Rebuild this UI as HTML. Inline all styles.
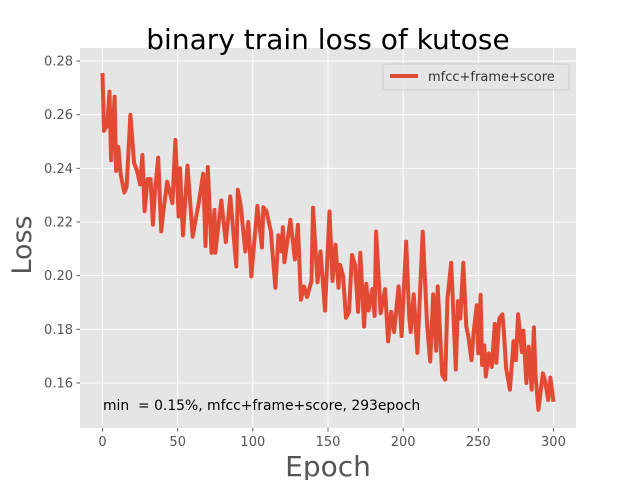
<!DOCTYPE html>
<html><head><meta charset="utf-8"><style>
body{margin:0;background:#fff;}
svg{display:block;font-family:"DejaVu Sans","Liberation Sans",sans-serif;}
</style></head><body>
<svg id="chart" width="640" height="480">
<rect x="80" y="48" width="496" height="380" fill="#E5E5E5"/>
<g id="grid"></g>
<g id="ticks"></g>
<path id="line" fill="none" stroke="#E24A33" stroke-width="4" stroke-linejoin="round"/>
<text x="328" y="49" text-anchor="middle" font-size="28" fill="#000">binary train loss of kutose</text>
<text x="328" y="476" text-anchor="middle" font-size="28" fill="#555">Epoch</text>
<text transform="translate(31,245) rotate(-90)" text-anchor="middle" font-size="27" fill="#555">Loss</text>
<text x="103" y="410" font-size="13.9" fill="#000" xml:space="preserve" style="white-space:pre">min  = 0.15%, mfcc+frame+score, 293epoch</text>
<g>
<rect x="383" y="64" width="186" height="26" rx="3" fill="#E5E5E5" stroke="#ccc" stroke-width="1" fill-opacity="0.8"/>
<line x1="390" y1="76" x2="418" y2="76" stroke="#E24A33" stroke-width="4"/>
<text x="428" y="81" font-size="13" fill="#333">mfcc+frame+score</text>
</g>
</svg>
<script>
const epochs=[0,1,3,4.6,5.7,8,9,10.5,12,14.5,16,18.5,21,23,25,26.5,28,30,32,33.5,34.8,37,39,40.5,43,46.5,48.5,50.6,51.5,53.5,56.5,60,62,64,67,68.5,70,72.5,74.5,75,79,82,85,89,90,92,95,97,99,103,106,107,109,112,113,115,117,119,120,121,125,128,130,132,134,136,139,140,143,145,148,151,153,155,157,158,160,162,164,166,168,170,171.5,174,175.5,177,179.5,181,182,185,188,190,192,194,197,199,202,204,205,207,209.5,213,216,218,220,222,223,226,228,229.5,232,235,236.5,238,240,242,243.5,245.5,247,249,250,251.5,252.5,254,255,257,259,261,262,264,266,267,268.5,271,273.5,275,276.5,279,280,282,283.5,285.5,287,288,290,291.5,293,294.5,296.5,298,300];
const losses=[0.2755,0.254,0.256,0.2686,0.243,0.2667,0.239,0.248,0.238,0.231,0.233,0.26,0.242,0.239,0.234,0.245,0.224,0.236,0.236,0.219,0.231,0.244,0.2165,0.224,0.235,0.227,0.2506,0.222,0.240,0.215,0.241,0.2145,0.221,0.227,0.238,0.211,0.2405,0.2085,0.2245,0.2085,0.228,0.2125,0.2295,0.2034,0.232,0.226,0.209,0.22,0.1997,0.226,0.2105,0.2255,0.224,0.2165,0.209,0.1955,0.215,0.209,0.218,0.205,0.2208,0.206,0.219,0.191,0.196,0.192,0.198,0.2253,0.1975,0.209,0.187,0.2239,0.198,0.2115,0.1955,0.204,0.2,0.1843,0.1865,0.2077,0.204,0.1865,0.2085,0.181,0.197,0.187,0.195,0.185,0.2164,0.186,0.195,0.1755,0.1865,0.179,0.196,0.1775,0.2127,0.1845,0.179,0.193,0.1712,0.2164,0.181,0.168,0.193,0.172,0.196,0.163,0.1612,0.1917,0.2048,0.165,0.1905,0.184,0.2048,0.181,0.177,0.1685,0.1795,0.189,0.171,0.1929,0.1667,0.174,0.1624,0.171,0.166,0.182,0.1675,0.184,0.1856,0.179,0.1655,0.1575,0.1756,0.1685,0.1856,0.1715,0.1795,0.16,0.1735,0.1575,0.1807,0.1636,0.150,0.157,0.1636,0.1605,0.1537,0.162,0.153];
const xTicks=[0,50,100,150,200,250,300];
const yTicks=[0.16,0.18,0.20,0.22,0.24,0.26,0.28];
const yTickLabels=["0.16","0.18","0.20","0.22","0.24","0.26","0.28"];
const X=v=>80+(v+15)*496/330;
const Y=v=>61+(0.28-v)*2683;
const NS="http://www.w3.org/2000/svg";
const grid=document.getElementById('grid'),ticks=document.getElementById('ticks');
xTicks.forEach(t=>{
 const l=document.createElementNS(NS,'line');
 
 
 l.setAttribute('x1',X(t));l.setAttribute('x2',X(t));l.setAttribute('y1',48);l.setAttribute('y2',428);
 l.setAttribute('stroke','#fff');l.setAttribute('stroke-width','1');grid.appendChild(l);
 const k=document.createElementNS(NS,'line');
 
 
 k.setAttribute('x1',X(t));k.setAttribute('x2',X(t));k.setAttribute('y1',428);k.setAttribute('y2',431.5);
 k.setAttribute('stroke','#555');ticks.appendChild(k);
 const s=document.createElementNS(NS,'text');
 
 
 s.setAttribute('x',X(t));s.setAttribute('y',446);s.setAttribute('text-anchor','middle');
 s.setAttribute('font-size','13');s.setAttribute('fill','#555');s.textContent=t;ticks.appendChild(s);
});
yTicks.forEach((t,i)=>{
 const l=document.createElementNS(NS,'line');
 
 
 l.setAttribute('x1',80);l.setAttribute('x2',576);l.setAttribute('y1',Y(t));l.setAttribute('y2',Y(t));
 l.setAttribute('stroke','#fff');l.setAttribute('stroke-width','1');grid.appendChild(l);
 const k=document.createElementNS(NS,'line');
 
 
 k.setAttribute('x1',76.5);k.setAttribute('x2',80);k.setAttribute('y1',Y(t));k.setAttribute('y2',Y(t));
 k.setAttribute('stroke','#555');ticks.appendChild(k);
 const s=document.createElementNS(NS,'text');
 
 
 s.setAttribute('x',73);s.setAttribute('y',Y(t)+4.5);s.setAttribute('text-anchor','end');
 s.setAttribute('font-size','13');s.setAttribute('fill','#555');s.textContent=yTickLabels[i];ticks.appendChild(s);
});
document.getElementById('line').setAttribute('d',epochs.map((e,i)=>(i?'L':'M')+X(e).toFixed(1)+','+Y(losses[i]).toFixed(1)).join(''));
</script>
</body></html>
